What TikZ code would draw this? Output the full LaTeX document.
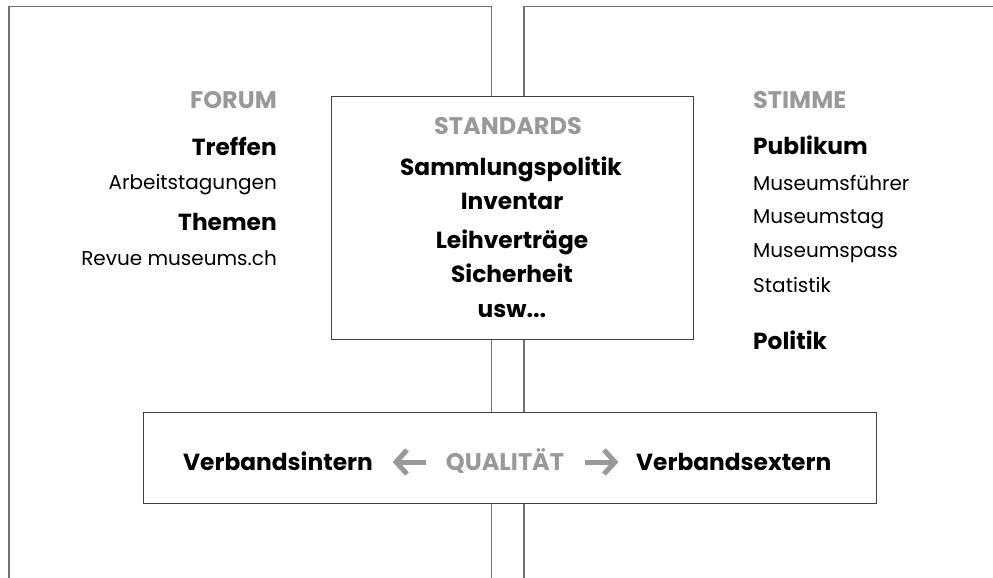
\documentclass[tikz,border=0pt]{standalone}
\usepackage{fontspec}
\setmainfont{Poppins}
\begin{document}
\begin{tikzpicture}[x=1pt,y=-1pt,
  panel/.style={draw=black!55,line width=1.4pt},
  box/.style={draw=black!75,line width=1.3pt,fill=white},
  head/.style={font=\fontsize{24}{28}\selectfont\bfseries,text=black!40,inner sep=0pt},
  bold/.style={font=\fontsize{23.3}{28}\selectfont\bfseries,text=black,inner sep=0pt},
  plain/.style={font=\fontsize{20}{24}\selectfont,text=black,inner sep=0pt},
  garrow/.style={draw=black!40,line width=5pt}]
\useasboundingbox (0,0) rectangle (993,578);
% panels
\draw[panel] (9,578) -- (9,6.5) -- (491.5,6.5) -- (491.5,578);
\draw[panel] (524,578) -- (524,6.5) -- (993,6.5);
% boxes
\node[box,minimum width=362pt,minimum height=243pt,inner sep=0pt,anchor=north west] (std) at (331,96) {};
\node[box,minimum width=733pt,minimum height=91pt,inner sep=0pt,anchor=north west] (qual) at (143,411.5) {};
% left column
\node[head,anchor=base east] (forum) at (277,108) {FORUM};
\node[bold,anchor=base east] (treffen) at (277,155) {Treffen};
\node[plain,anchor=base east] (arb) at (277,189) {Arbeitstagungen};
\node[bold,anchor=base east] (themen) at (277,230) {Themen};
\node[plain,anchor=base east] (revue) at (277,265) {Revue museums.ch};
% center column
\node[head,anchor=base] (standards) at (508,134) {STANDARDS};
\node[bold,anchor=base] (samm) at (511,175) {Sammlungspolitik};
\node[bold,anchor=base] (inv) at (512,209) {Inventar};
\node[bold,anchor=base] (leih) at (512,248) {Leihverträge};
\node[bold,anchor=base] (sich) at (512,282) {Sicherheit};
\node[bold,anchor=base] (usw) at (512,317) {usw...};
% right column
\node[head,anchor=base west] (stimme) at (753,108) {STIMME};
\node[bold,anchor=base west] (publ) at (753,154) {Publikum};
\node[plain,anchor=base west] (mf) at (753,190) {Museumsführer};
\node[plain,anchor=base west] (mt) at (753,223) {Museumstag};
\node[plain,anchor=base west] (mp) at (753,257) {Museumspass};
\node[plain,anchor=base west] (stat) at (753,292) {Statistik};
\node[bold,anchor=base west] (pol) at (753,349) {Politik};
% bottom row
\node[bold,anchor=base east] (intern) at (373,470) {Verbandsintern};
\node[head,anchor=base] (quality) at (505,470) {QUALITÄT};
\node[bold,anchor=base west] (extern) at (636,470) {Verbandsextern};
% grey arrows
\coordinate (la) at (395,462);
\coordinate (lb) at (426,462);
\coordinate (ra) at (585,462);
\coordinate (rb) at (616,462);
\draw[garrow] (la) -- (lb);
\draw[garrow,miter limit=10] ([shift={(12,-12)}]la) -- ([shift={(1,0)}]la) -- ([shift={(12,12)}]la);
\draw[garrow] (ra) -- (rb);
\draw[garrow,miter limit=10] ([shift={(-12,-12)}]rb) -- ([shift={(-1,0)}]rb) -- ([shift={(-12,12)}]rb);
\end{tikzpicture}
\end{document}
